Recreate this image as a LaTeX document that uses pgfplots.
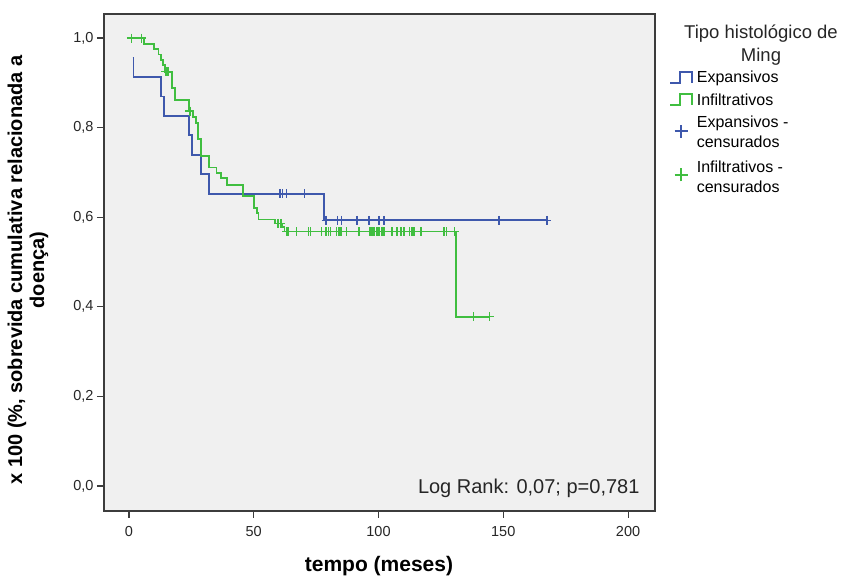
\documentclass[border=0pt]{standalone}
\usepackage{pgfplots}
\pgfplotsset{compat=1.18}
\usepackage{fontspec}
\setmainfont{Liberation Sans}
\definecolor{kmblue}{RGB}{62,88,172}
\definecolor{kmgreen}{RGB}{64,190,64}
\definecolor{bg}{RGB}{240,240,240}
\definecolor{frame}{RGB}{60,60,60}
\newcommand{\twoline}[3][0pt]{\parbox[b]{110pt}{\raggedright\rule{0pt}{#1}#2\\#3}}
\begin{document}
\begin{tikzpicture}[x=1pt,y=1pt]
\useasboundingbox (0,0) rectangle (843,578);
\begin{axis}[
  at={(104pt,67pt)}, anchor=south west,
  scale only axis, width=551pt, height=497pt,
  xmin=-10, xmax=210.8, ymin=-0.0558, ymax=1.0536,
  axis background/.style={fill=bg},
  axis line style={frame, line width=1.1pt},
  tick align=outside, xtick pos=bottom, ytick pos=left,
  major tick length=7pt, tick style={frame, line width=1.1pt},
  xtick={0,50,100,150,200}, ytick={0,0.2,0.4,0.6,0.8,1},
  /pgf/number format/assume math mode=true,
  ticklabel style={font=\fontsize{14.5}{16}\selectfont, text=black!85},
  yticklabel style={/pgf/number format/.cd, fixed, fixed zerofill, precision=1, use comma},
  xticklabel style={yshift=-5pt, /pgf/number format/.cd, fixed, precision=0},
  legend style={at={(1.02,0.893)}, anchor=north west, draw=none, fill=none,
    font=\fontsize{16}{20}\selectfont, row sep=5pt,
    nodes={inner xsep=4pt}},
  legend cell align=left,
]
\addplot[kmblue, line width=1.8pt, const plot, mark=none,
  legend image code/.code={\draw[kmblue,line width=1.6pt] (0pt,-5pt) -- (10pt,-5pt) -- (10pt,6pt) -- (22pt,6pt) -- (22pt,-5pt);}]
coordinates {
(1.5,0.9565) (1.8,0.913) (12.8,0.8696) (14.2,0.826) (24.2,0.7826) (25.2,0.739)
(28.9,0.6957) (32.2,0.652) (78.2,0.593) (167.4,0.593)
};
\addlegendentry{Expansivos}
\addplot[kmgreen, line width=1.8pt, const plot, mark=none,
  legend image code/.code={\draw[kmgreen,line width=1.6pt] (0pt,-5pt) -- (10pt,-5pt) -- (10pt,6pt) -- (22pt,6pt) -- (22pt,-5pt);}]
coordinates {
(0.5,1.0) (6.0,0.987) (10.1,0.975) (11.8,0.963) (12.8,0.951) (13.8,0.940)
(14.6,0.925) (17.1,0.888) (18.4,0.862) (24.0,0.837) (25.7,0.824) (26.8,0.810)
(27.8,0.775) (28.9,0.736) (32.2,0.711) (35.1,0.698) (36.9,0.687) (39.2,0.672)
(45.8,0.648) (50.1,0.621) (51.2,0.610) (51.9,0.595) (58.5,0.586) (61.5,0.578)
(62.3,0.568) (131.2,0.378) (144.4,0.378)
};
\addlegendentry{Infiltrativos}
\addplot[only marks, mark=+, mark size=4.5pt, kmblue, mark options={line width=1.6pt},
  legend image code/.code={\draw[kmblue,line width=1.6pt] (11pt,-5.5pt) -- (11pt,7.5pt) (4.5pt,1pt) -- (17.5pt,1pt);}]
coordinates {
(60.5,0.652) (61.6,0.652) (63.2,0.652) (70.4,0.652)
(79.0,0.593) (83.5,0.593) (85.1,0.593) (91.3,0.593) (96.3,0.593) (100.3,0.593)
(102.2,0.593) (148.4,0.593) (167.4,0.593)
};
\addlegendentry{\twoline{Expansivos -}{censurados}}
\addplot[only marks, mark=+, mark size=4.5pt, kmgreen, mark options={line width=1.6pt},
  legend image code/.code={\draw[kmgreen,line width=1.6pt] (11pt,-5.5pt) -- (11pt,7.5pt) (4.5pt,1pt) -- (17.5pt,1pt);}]
coordinates {
(1.0,1.0) (5.0,1.0) (14.8,0.925) (15.6,0.925) (24.4,0.837)
(59.8,0.586) (60.9,0.586)
(63.2,0.568) (63.8,0.568) (67.2,0.568) (71.9,0.568) (72.8,0.568) (77.2,0.568)
(78.9,0.568) (79.9,0.568) (80.8,0.568) (83.2,0.568) (84.1,0.568) (84.9,0.568)
(87.2,0.568) (92.2,0.568) (96.6,0.568) (97.3,0.568) (98.2,0.568) (99.3,0.568)
(100.3,0.568) (101.3,0.568) (102.2,0.568) (105.3,0.568) (107.3,0.568) (108.9,0.568)
(110.2,0.568) (112.5,0.568) (113.5,0.568) (114.2,0.568) (117.1,0.568) (126.3,0.568)
(127.2,0.568) (130.5,0.568)
(138.0,0.378) (144.4,0.378)
};
\addlegendentry{\twoline[15pt]{Infiltrativos -}{censurados}}
\end{axis}
\node[anchor=east, font=\fontsize{20}{22}\selectfont, text=black!85] at (643,90) {Log Rank: 0,07; p=0,781};
\node[font=\fontsize{21}{24}\bfseries\selectfont] at (379,12) {tempo (meses)};
\node[rotate=90, align=center, font=\fontsize{20}{22}\bfseries\selectfont] at (28,308) {x 100 (\%, sobrevida cumulativa relacionada a\\doença)};
\node[align=center, font=\fontsize{18.5}{23}\selectfont, text=black!85] at (761,533) {Tipo histológico de\\Ming};
\end{tikzpicture}
\end{document}
